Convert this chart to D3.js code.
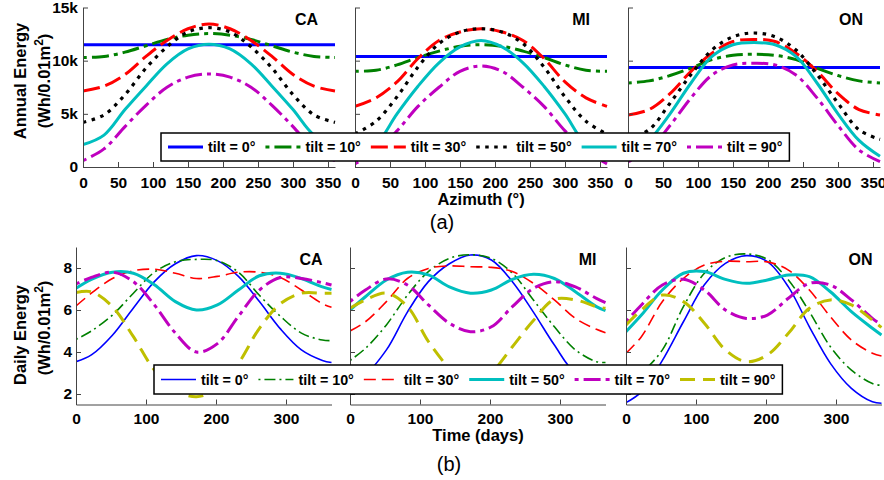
<!DOCTYPE html>
<html><head><meta charset="utf-8">
<script src="https://cdn.jsdelivr.net/npm/d3@7/dist/d3.min.js"></script>
<style>
body{margin:0;background:#fff}
text{font-family:"Liberation Sans",Arial,Helvetica,sans-serif}
</style>
</head><body>
<svg id="chart" width="884" height="480"></svg>
<script>
// ---------------- DATA ----------------
const regions = ["CA", "MI", "ON"];
const tiltLabels = ["tilt = 0°", "tilt = 10°", "tilt = 30°", "tilt = 50°", "tilt = 70°", "tilt = 90°"];
const azimuth = [0, 30, 60, 90, 120, 150, 180, 210, 240, 270, 300, 330, 360];
const azTicks = [0, 50, 100, 150, 200, 250, 300, 350];
const annualTicks = [0, 5000, 10000, 15000];
const annualTickLabels = ["0", "5k", "10k", "15k"];

// Annual energy (Wh/0.01m²) vs azimuth, one row per tilt
const annualCA = [
  [11500, 11500, 11500, 11500, 11500, 11500, 11500, 11500, 11500, 11500, 11500, 11500, 11500],
  [10300, 10400, 10800, 11400, 12000, 12400, 12550, 12400, 12000, 11400, 10800, 10400, 10300],
  [7150, 7600, 8700, 10400, 11900, 13000, 13450, 13000, 11900, 10400, 8700, 7600, 7150],
  [4200, 4900, 6800, 9300, 11300, 12700, 13100, 12700, 11300, 9300, 6800, 4900, 4200],
  [2100, 3000, 5400, 7600, 9700, 11100, 11550, 11100, 9700, 7600, 5400, 3000, 2100],
  [600, 1700, 3800, 5800, 7500, 8450, 8750, 8450, 7500, 5800, 3800, 1700, 600]
];
const annualMI = [
  [10400, 10400, 10400, 10400, 10400, 10400, 10400, 10400, 10400, 10400, 10400, 10400, 10400],
  [9000, 9100, 9600, 10300, 10900, 11350, 11500, 11350, 10900, 10300, 9600, 9100, 9000],
  [5700, 6500, 8000, 10200, 11900, 12700, 13000, 12700, 11900, 10200, 8000, 6500, 5700],
  [3100, 4300, 6600, 9400, 11600, 12700, 13000, 12700, 11600, 9400, 6600, 4300, 3100],
  [1000, 2100, 5000, 7600, 9800, 11300, 11900, 11300, 9800, 7600, 5000, 2100, 1000],
  [300, 1500, 3400, 5700, 7500, 9000, 9500, 9000, 7500, 5700, 3400, 1500, 300]
];
const annualON = [
  [9350, 9350, 9350, 9350, 9350, 9350, 9350, 9350, 9350, 9350, 9350, 9350, 9350],
  [7900, 8100, 8600, 9300, 10100, 10500, 10600, 10500, 10100, 9300, 8600, 8100, 7900],
  [4900, 5400, 6900, 9000, 10700, 11800, 12000, 11800, 10700, 9000, 6900, 5400, 4900],
  [2600, 3500, 6000, 8700, 11000, 12250, 12600, 12250, 11000, 8700, 6000, 3500, 2600],
  [1000, 2500, 5000, 7900, 10400, 11500, 11700, 11500, 10400, 7900, 5000, 2500, 1000],
  [500, 1600, 3900, 6500, 8650, 9600, 9750, 9600, 8650, 6500, 3900, 1600, 500]
];

const days = [0, 22, 52, 82, 112, 142, 172, 202, 232, 262, 292, 322, 352, 365];
const dayTicks = [0, 100, 200, 300];
const dailyTicks = [2, 4, 6, 8];

// Daily energy (Wh/0.01m²) vs day of year, one row per tilt
const dailyCA = [
  [3.54, 3.86, 4.8, 6.1, 7.35, 8.2, 8.59, 8.35, 7.6, 6.4, 5.1, 4.1, 3.6, 3.5],
  [4.6, 5.0, 5.76, 6.8, 7.8, 8.3, 8.41, 8.35, 7.8, 6.7, 5.7, 4.9, 4.57, 4.54],
  [6.19, 6.8, 7.5, 7.87, 7.94, 7.75, 7.5, 7.6, 7.8, 7.8, 7.55, 6.95, 6.3, 6.13],
  [7.03, 7.46, 7.8, 7.75, 7.2, 6.4, 6.0, 6.24, 6.95, 7.63, 7.75, 7.5, 7.1, 6.98],
  [7.24, 7.55, 7.8, 7.35, 6.24, 4.9, 4.0, 4.4, 5.7, 6.95, 7.55, 7.5, 7.3, 7.19],
  [6.83, 6.87, 6.16, 4.73, 3.14, 2.2, 1.87, 2.27, 3.46, 5.13, 6.3, 6.8, 6.8, 6.8]
];
const dailyMI = [
  [2.7, 2.95, 4.1, 5.9, 7.35, 8.2, 8.62, 8.38, 7.35, 5.9, 4.33, 3.0, 2.7, 2.6],
  [3.6, 4.17, 5.29, 6.7, 7.83, 8.46, 8.63, 8.46, 7.75, 6.48, 5.2, 4.1, 3.54, 3.5],
  [5.0, 5.44, 6.4, 7.5, 7.98, 8.1, 8.06, 8.03, 7.83, 7.27, 6.48, 5.6, 5.08, 4.92],
  [6.0, 6.63, 7.43, 7.8, 7.67, 7.1, 6.8, 6.95, 7.46, 7.7, 7.5, 6.87, 6.16, 5.97],
  [6.4, 6.95, 7.48, 7.19, 6.24, 5.37, 4.97, 5.2, 6.16, 7.03, 7.35, 7.1, 6.55, 6.35],
  [6.08, 6.48, 6.8, 6.16, 4.5, 3.2, 2.2, 3.0, 4.25, 5.5, 6.5, 6.48, 6.16, 6.08]
];
const dailyON = [
  [1.59, 2.1, 3.6, 5.44, 7.2, 8.22, 8.59, 8.3, 7.1, 5.2, 3.46, 2.27, 1.63, 1.56],
  [2.45, 3.0, 4.1, 6.16, 7.75, 8.5, 8.67, 8.41, 7.43, 5.92, 4.25, 3.14, 2.5, 2.41],
  [3.94, 4.73, 6.4, 7.5, 8.14, 8.32, 8.3, 8.29, 7.9, 6.95, 5.68, 4.57, 3.94, 3.81],
  [4.97, 5.76, 6.95, 7.75, 7.83, 7.46, 7.27, 7.43, 7.67, 7.59, 6.87, 5.92, 5.13, 4.81],
  [5.44, 6.24, 7.19, 7.46, 6.95, 6.0, 5.6, 5.76, 6.56, 7.27, 7.19, 6.48, 5.6, 5.29],
  [5.29, 6.0, 6.71, 6.4, 5.37, 4.1, 3.54, 3.86, 4.89, 6.08, 6.48, 6.24, 5.52, 5.17]
];

// ---------------- STYLES ----------------
const topStyles = [
  {color: "#0000ff", width: 3, dash: null},
  {color: "#008000", width: 3, dash: "4,5,17,5"},
  {color: "#ff0000", width: 3, dash: "17,6"},
  {color: "#000000", width: 3.2, dash: "3.5,5.5"},
  {color: "#00bfbf", width: 3, dash: null},
  {color: "#bf00bf", width: 3, dash: "4,5,17,5"}
];
const botStyles = [
  {color: "#0000ff", width: 1.6, dash: null},
  {color: "#008000", width: 1.6, dash: "2,4,11,4"},
  {color: "#ff0000", width: 1.6, dash: "12,6"},
  {color: "#00bfbf", width: 3, dash: null},
  {color: "#bf00bf", width: 3, dash: "4,5,17,5"},
  {color: "#bfbf00", width: 3, dash: "15,8"}
];

const svg = d3.select("#chart");
const axisColor = "#444";
const FONT = '"Liberation Sans",Arial,Helvetica,sans-serif';

function styleAxis(g) {
  g.select(".domain").attr("stroke", axisColor).attr("stroke-width", 1);
  g.selectAll(".tick line").attr("stroke", axisColor);
  g.selectAll(".tick text").attr("fill", "#000").attr("font-weight", "bold")
    .attr("font-size", 15.5).attr("font-family", FONT);
}

function drawPanel(opt) {
  const {x0, width, yTop, yBottom, xDomain, yDomain, xTicks, yTicks, yFmt, series, xs, styles, title, showY, titleOff, titleY, xPad, yPad, id} = opt;
  const x = d3.scaleLinear().domain(xDomain).range([x0, x0 + width]);
  const y = d3.scaleLinear().domain(yDomain).range([yBottom, yTop]);
  const g = svg.append("g");
  svg.append("clipPath").attr("id", id).append("rect")
    .attr("x", x0).attr("y", yTop - 2).attr("width", width + 1).attr("height", yBottom - yTop + 2);
  const line = d3.line().x((d, i) => x(xs[i])).y(d => y(d)).curve(d3.curveCatmullRom.alpha(0.5));
  const lg = g.append("g").attr("clip-path", `url(#${id})`);
  series.forEach((s, i) => {
    const st = styles[i];
    lg.append("path").datum(s).attr("d", line).attr("fill", "none")
      .attr("stroke", st.color).attr("stroke-width", st.width)
      .attr("stroke-dasharray", st.dash).attr("stroke-linejoin", "round");
  });
  const xa = g.append("g").attr("transform", `translate(0,${yBottom})`)
    .call(d3.axisBottom(x).tickValues(xTicks).tickSizeInner(-5).tickSizeOuter(0).tickPadding(xPad).tickFormat(d3.format("d")));
  styleAxis(xa);
  const ya = g.append("g").attr("transform", `translate(${x0},0)`)
    .call(d3.axisLeft(y).tickValues(yTicks).tickSizeInner(-5).tickSizeOuter(0).tickPadding(yPad).tickFormat(showY ? yFmt : () => ""));
  styleAxis(ya);
  g.append("text").attr("x", x0 + width - titleOff).attr("y", titleY).attr("text-anchor", "end")
    .attr("font-weight", "bold").attr("font-size", 16).text(title);
}

const topX = [83, 355, 628];
const botX = [76, 350, 626];
const annual = [annualCA, annualMI, annualON];
const daily = [dailyCA, dailyMI, dailyON];

regions.forEach((r, i) => {
  drawPanel({
    id: "ct" + i, x0: topX[i], width: 252, yTop: 7.5, yBottom: 167,
    xDomain: [0, 360], yDomain: [0, 15000], xTicks: azTicks, yTicks: annualTicks,
    yFmt: d => annualTickLabels[annualTicks.indexOf(d)], series: annual[i], xs: azimuth,
    styles: topStyles, title: r, showY: i === 0, titleOff: 17, titleY: 25, xPad: 10, yPad: 5
  });
  drawPanel({
    id: "cb" + i, x0: botX[i], width: 255.5, yTop: 247, yBottom: 404.5,
    xDomain: [0, 365], yDomain: [1.5, 9], xTicks: dayTicks, yTicks: dailyTicks,
    yFmt: d3.format("d"), series: daily[i], xs: days,
    styles: botStyles, title: r, showY: i === 0, titleOff: 9, titleY: 265, xPad: 8.5, yPad: 4
  });
});

// ---------------- LEGENDS ----------------
function legend(x0, y0, h, styles) {
  const g = svg.append("g");
  const rect = g.append("rect").attr("x", x0).attr("y", y0).attr("height", h)
    .attr("fill", "#fff").attr("stroke", "#000").attr("stroke-width", 1.5);
  let cx = x0 + 7;
  const cy = y0 + h / 2;
  styles.forEach((st, i) => {
    g.append("line").attr("x1", cx).attr("x2", cx + 35).attr("y1", cy).attr("y2", cy)
      .attr("stroke", st.color).attr("stroke-width", st.width).attr("stroke-dasharray", st.dash);
    const t = g.append("text").attr("x", cx + 40).attr("y", cy + 5).attr("font-weight", "bold")
      .attr("font-size", 14.3).text(tiltLabels[i]);
    const w = t.node().getComputedTextLength();
    cx = cx + 40 + w + 10;
  });
  rect.attr("width", cx - x0 - 3);
}
legend(161, 133, 28, topStyles);
legend(154, 365, 29, botStyles);

// ---------------- AXIS TITLES ----------------
function yLabel(cx, cy, line1) {
  svg.append("text").attr("transform", `translate(${cx},${cy}) rotate(-90)`)
    .attr("text-anchor", "middle").attr("font-weight", "bold").attr("font-size", 16.5).text(line1);
}
function yUnit(cx, cy) {
  const t = svg.append("text").attr("transform", `translate(${cx},${cy}) rotate(-90)`)
    .attr("text-anchor", "middle").attr("font-weight", "bold").attr("font-size", 16.5);
  t.append("tspan").text("(Wh/0.01m");
  t.append("tspan").attr("dy", -7).attr("font-size", 12).text("2");
  t.append("tspan").attr("dy", 7).text(")");
}
yLabel(26, 81, "Annual Energy");
yUnit(50, 81);
yLabel(26, 335, "Daily Energy");
yUnit(50, 328);

svg.append("text").attr("x", 481).attr("y", 205).attr("text-anchor", "middle")
  .attr("font-weight", "bold").attr("font-size", 16.5).text("Azimuth (°)");
svg.append("text").attr("x", 478).attr("y", 441).attr("text-anchor", "middle")
  .attr("font-weight", "bold").attr("font-size", 16.5).text("Time (days)");
svg.append("text").attr("x", 442).attr("y", 229).attr("text-anchor", "middle")
  .attr("font-family", '"Liberation Serif","Times New Roman",serif').attr("font-size", 20).text("(a)");
svg.append("text").attr("x", 449).attr("y", 471).attr("text-anchor", "middle")
  .attr("font-family", '"Liberation Serif","Times New Roman",serif').attr("font-size", 20).text("(b)");
</script>
</body></html>
